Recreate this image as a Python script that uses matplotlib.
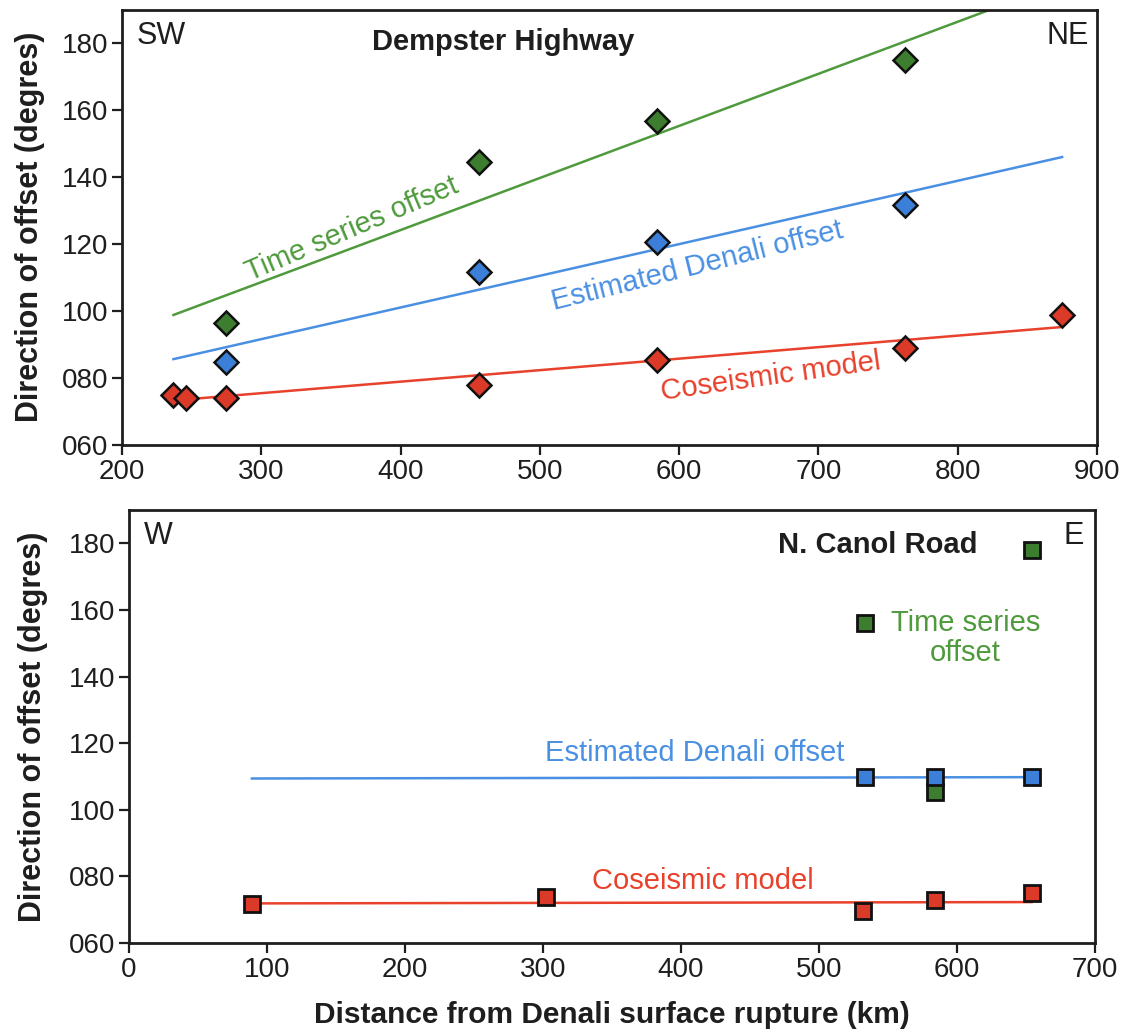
import numpy as np
import matplotlib.pyplot as plt
from matplotlib.ticker import FuncFormatter

plt.rcParams['font.family'] = ['Liberation Sans', 'DejaVu Sans']

# Dempster Highway (top panel)
dh_red_x = [237, 246, 275, 456, 584, 762, 875]
dh_red_y = [75.0, 74.0, 74.1, 77.8, 85.2, 88.9, 98.7]
dh_blue_x = [275, 456, 584, 762]
dh_blue_y = [84.7, 111.6, 120.6, 131.7]
dh_green_x = [275, 456, 584, 762]
dh_green_y = [96.4, 144.4, 156.9, 175.0]
# fitted trend lines (end points)
dh_green_fit_x = [237, 823]
dh_green_fit_y = [98.8, 190.0]
dh_blue_fit_x = [237, 875]
dh_blue_fit_y = [85.6, 146.0]
dh_red_fit_x = [247, 875]
dh_red_fit_y = [73.6, 95.2]

# N. Canol Road (bottom panel)
cr_red_x = [89, 302, 532, 584, 654]
cr_red_y = [71.8, 73.8, 69.5, 73.0, 75.0]
cr_blue_x = [533, 584, 654]
cr_blue_y = [109.8, 109.8, 109.8]
cr_green_x = [533, 584, 654]
cr_green_y = [156.1, 105.2, 178.0]
cr_blue_fit_x = [89, 654]
cr_blue_fit_y = [109.4, 109.8]
cr_red_fit_x = [89, 654]
cr_red_fit_y = [71.9, 72.3]

green_line = '#4e9a3c'
green_mark = '#3d7d30'
blue_line = '#4a90e2'
blue_mark = '#3b7fd8'
red_line = '#e8412c'
red_mark = '#dc3a28'
txt = '#1e1e1e'

fig = plt.figure(figsize=(11.29, 10.32), dpi=100)
ax1 = fig.add_axes([0.108, 0.569, 0.8636, 0.4215])
ax2 = fig.add_axes([0.1143, 0.0862, 0.8556, 0.4196])

fmt = FuncFormatter(lambda v, p: f"{int(v):03d}")
for ax in (ax1, ax2):
    ax.set_ylim(60, 190)
    ax.set_yticks(np.arange(60, 181, 20))
    ax.yaxis.set_major_formatter(fmt)
    ax.tick_params(direction='out', length=7, width=1.6, labelsize=20, colors=txt, pad=3)
    for s in ax.spines.values():
        s.set_linewidth(2)
        s.set_color(txt)
ax1.set_ylabel('Direction of offset (degres)', fontsize=22, fontweight='bold', color=txt, labelpad=12)
ax2.set_ylabel('Direction of offset (degres)', fontsize=22, fontweight='bold', color=txt, labelpad=15)

# top
ax1.set_xlim(200, 900)
ax1.set_xticks(np.arange(200, 901, 100))
ax1.plot(dh_green_fit_x, dh_green_fit_y, color=green_line, lw=1.8)
ax1.plot(dh_blue_fit_x, dh_blue_fit_y, color=blue_line, lw=1.8)
ax1.plot(dh_red_fit_x, dh_red_fit_y, color=red_line, lw=1.8)
mk = dict(marker='D', ls='none', ms=12, mec='#111111', mew=1.8)
ax1.plot(dh_green_x, dh_green_y, mfc=green_mark, **mk)
ax1.plot(dh_blue_x, dh_blue_y, mfc=blue_mark, **mk)
ax1.plot(dh_red_x, dh_red_y, mfc=red_mark, **mk)

ax1.text(0.015, 0.975, 'SW', transform=ax1.transAxes, fontsize=22, color=txt, va='top', ha='left')
ax1.text(0.992, 0.975, 'NE', transform=ax1.transAxes, fontsize=22, color=txt, va='top', ha='right')
ax1.text(474, 180.5, 'Dempster Highway', fontsize=21, fontweight='bold', color=txt, ha='center', va='center')
ax1.text(365, 124.5, 'Time series offset', fontsize=21, color=green_line, rotation=23,
         ha='center', va='center', rotation_mode='anchor')
ax1.text(613, 113.5, 'Estimated Denali offset', fontsize=21, color=blue_line, rotation=14,
         ha='center', va='center', rotation_mode='anchor')
ax1.text(666, 80.5, 'Coseismic model', fontsize=21, color=red_line, rotation=8,
         ha='center', va='center', rotation_mode='anchor')

# bottom
ax2.set_xlim(0, 700)
ax2.set_xticks(np.arange(0, 701, 100))
ax2.plot(cr_blue_fit_x, cr_blue_fit_y, color=blue_line, lw=1.8)
ax2.plot(cr_red_fit_x, cr_red_fit_y, color=red_line, lw=1.8)
sq = dict(marker='s', ls='none', ms=11, mec='#111111', mew=2)
ax2.plot(cr_green_x, cr_green_y, mfc=green_mark, **sq)
ax2.plot(cr_blue_x, cr_blue_y, mfc=blue_mark, **sq)
ax2.plot(cr_red_x, cr_red_y, mfc=red_mark, **sq)

ax2.text(0.015, 0.975, 'W', transform=ax2.transAxes, fontsize=22, color=txt, va='top', ha='left')
ax2.text(0.988, 0.975, 'E', transform=ax2.transAxes, fontsize=22, color=txt, va='top', ha='right')
ax2.text(615, 179.5, 'N. Canol Road', fontsize=21, fontweight='bold', color=txt, ha='right', va='center')
ax2.text(606, 151.5, 'Time series\noffset', fontsize=21, color=green_line, ha='center', va='center',
         linespacing=1.1)
ax2.text(410, 117, 'Estimated Denali offset', fontsize=21, color=blue_line, ha='center', va='center')
ax2.text(416, 78.5, 'Coseismic model', fontsize=21, color=red_line, ha='center', va='center')
ax2.set_xlabel('Distance from Denali surface rupture (km)', fontsize=21.5, fontweight='bold',
               color=txt, labelpad=13)

fig.savefig('out.png', dpi=100)
